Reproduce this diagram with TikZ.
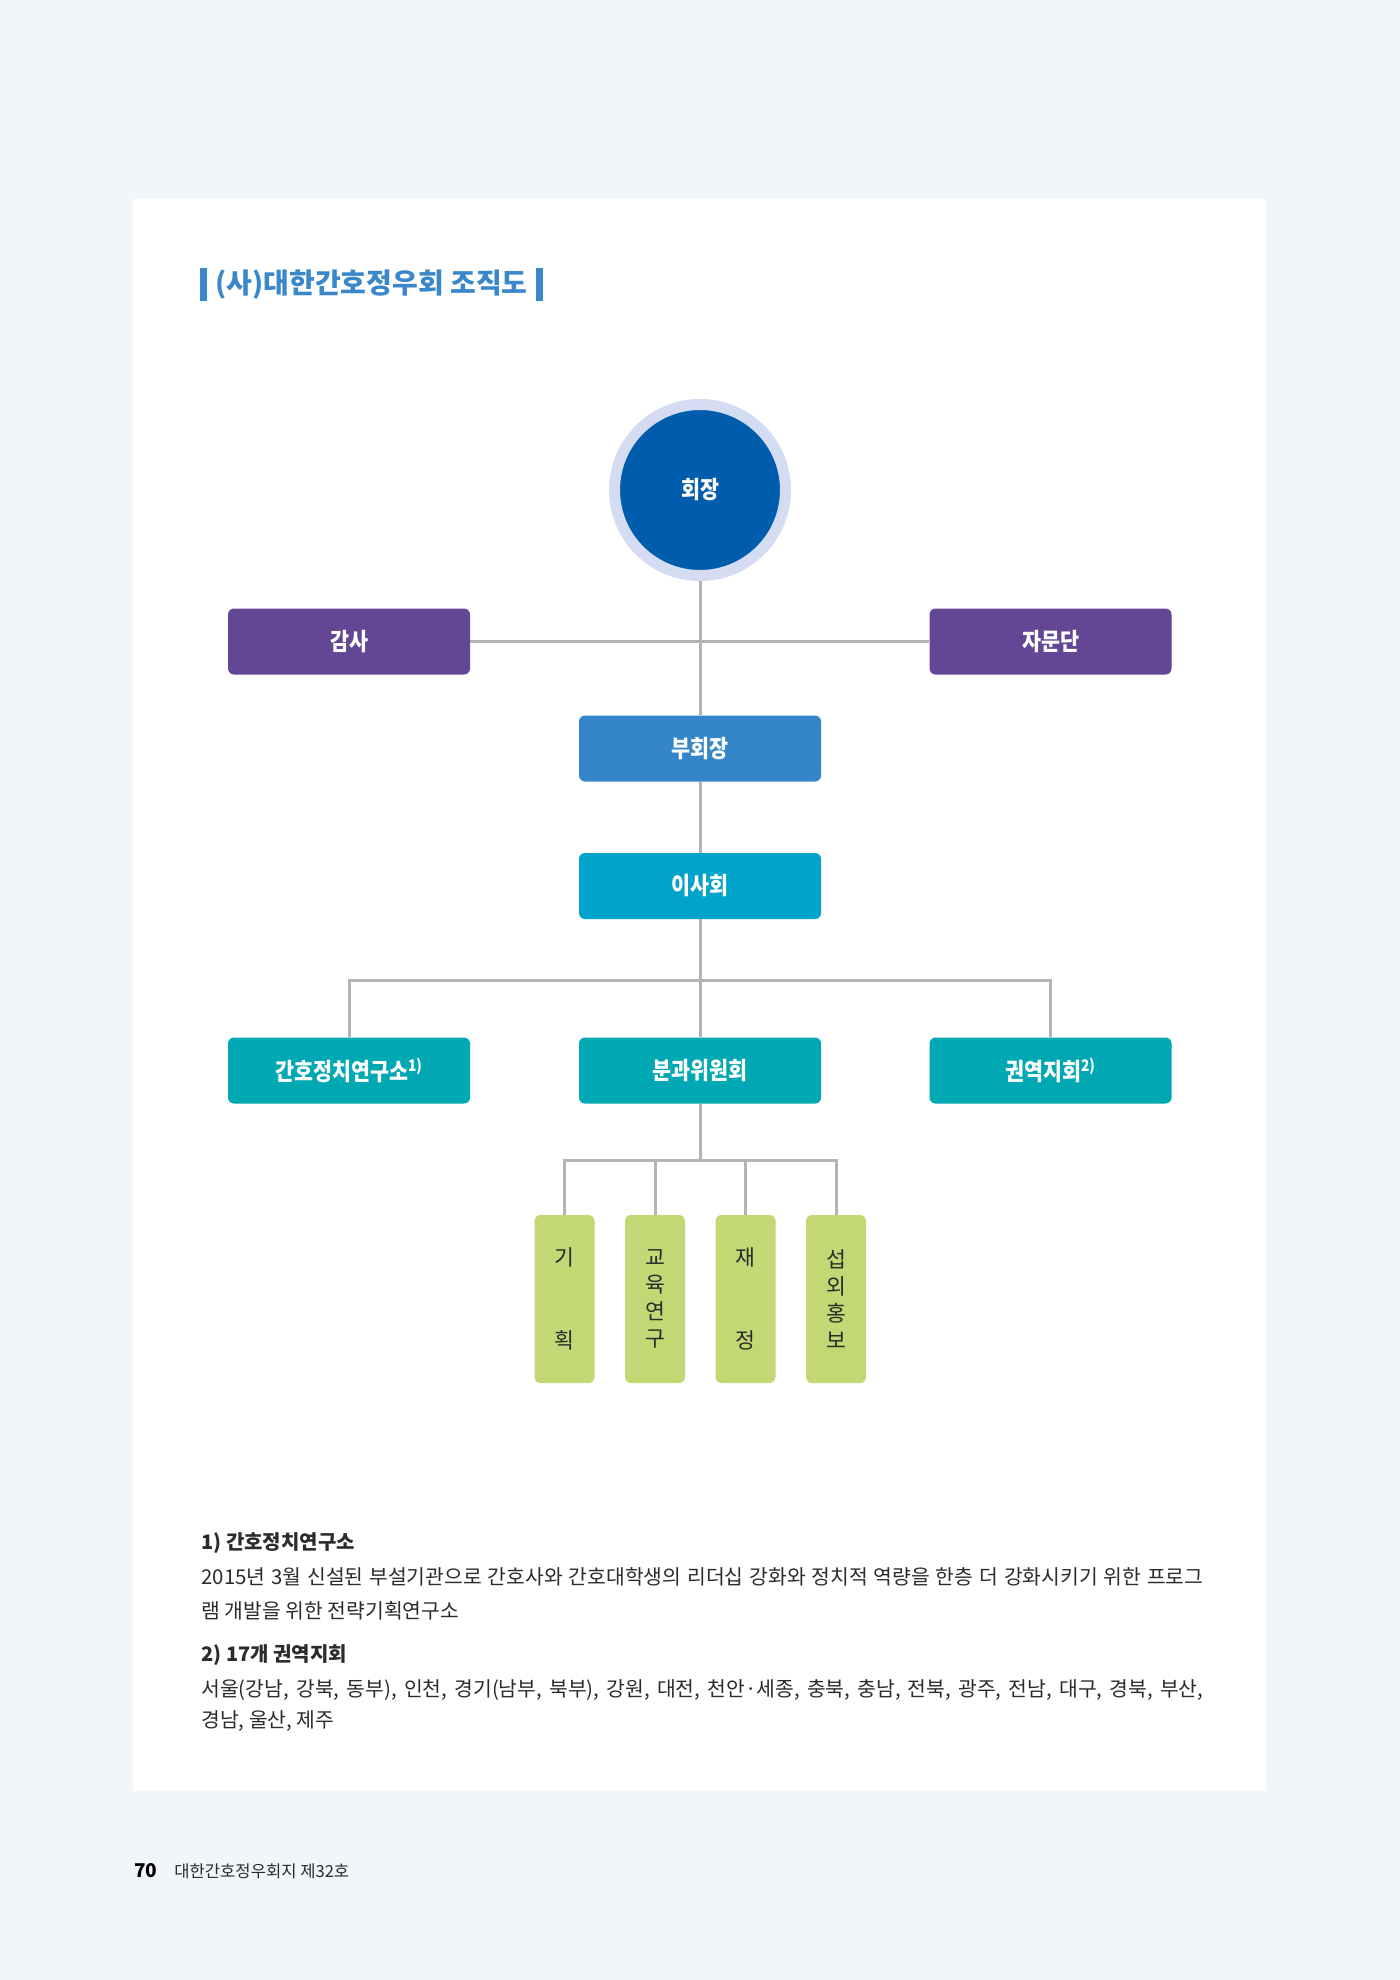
\documentclass[tikz,border=0pt]{standalone}
\usepackage{fontspec}
\setmainfont{Noto Sans CJK KR}
\newfontfamily\krcond{Noto Sans CJK KR}[FakeStretch=0.86]
\definecolor{pagebg}{HTML}{F2F5F9}
\definecolor{titleblue}{HTML}{3A87CA}
\definecolor{ringlight}{HTML}{D3DCF0}
\definecolor{presblue}{HTML}{005DAE}
\definecolor{purplebox}{HTML}{634795}
\definecolor{vpblue}{HTML}{3486C8}
\definecolor{boardcyan}{HTML}{00A3CA}
\definecolor{tealbox}{HTML}{00A8B4}
\definecolor{greenbox}{HTML}{C3D874}
\definecolor{linegray}{HTML}{B3B3B3}
\definecolor{darktext}{HTML}{2B2B2B}
\begin{document}
\begin{tikzpicture}[x=0.5pt,y=-0.5pt,
  conn/.style={draw=linegray,line width=1.5pt},
  orgbox/.style={rectangle,rounded corners=3pt,minimum width=121pt,minimum height=33pt,inner sep=0pt,text=white,font=\krcond\bfseries\fontsize{12}{14}\selectfont},
  subbox/.style={rectangle,rounded corners=3pt,fill=greenbox,minimum width=30pt,minimum height=84pt,inner sep=0pt,text=darktext,align=center,font=\fontsize{10.8}{13.6}\selectfont},
  bodytext/.style={anchor=west,inner sep=0pt,text=darktext,font=\fontsize{10.2}{12}\selectfont},
  headtext/.style={anchor=west,inner sep=0pt,text=darktext,font=\bfseries\fontsize{10}{12}\selectfont},
  titlebar/.style={rectangle,fill=titleblue,minimum width=3.5pt,minimum height=16.5pt,inner sep=0pt}]
\useasboundingbox (0,0) rectangle (1400,1980);
\fill[pagebg] (0,0) rectangle (1400,1980);
\fill[white] (133,199) rectangle (1266,1791);
% title
\node[titlebar] (barL) at (203.5,284.5) {};
\node[anchor=west,inner sep=0pt,text=titleblue,font=\bfseries\fontsize{14}{16}\selectfont] (title) at (215,285) {(사)대한간호정우회 조직도};
\node[titlebar,anchor=west] (barR) at ([xshift=4pt]title.east |- barL) {};
% nodes
\node[circle,fill=presblue,draw=ringlight,line width=5.5pt,minimum size=85.5pt,inner sep=0pt,text=white,font=\krcond\bfseries\fontsize{12}{14}\selectfont] (pres) at (700,490) {회장};
\node[orgbox,fill=purplebox] (gamsa) at (349,641.5) {감사};
\node[orgbox,fill=purplebox] (jamun) at (1050.5,641.5) {자문단};
\node[orgbox,fill=vpblue] (vp) at (700,748.5) {부회장};
\node[orgbox,fill=boardcyan] (isa) at (700,886) {이사회};
\node[orgbox,fill=tealbox] (gan) at (349,1070.5) {간호정치연구소\textsuperscript{1)}};
\node[orgbox,fill=tealbox] (bun) at (700,1070.5) {분과위원회};
\node[orgbox,fill=tealbox] (gwon) at (1050.5,1070.5) {권역지회\textsuperscript{2)}};
\node[subbox] (s1) at (564.5,1299) {기\\[27.9pt]획};
\node[subbox] (s2) at (655,1299) {교\\육\\연\\구};
\node[subbox] (s3) at (745.5,1299) {재\\[27.9pt]정};
\node[subbox] (s4) at (836,1299) {섭\\외\\홍\\보};
\coordinate (sb) at (700,1160.5);
% connectors
\draw[conn] (gamsa.east) -- (jamun.west);
\draw[conn] (pres.south) -- (vp.north);
\draw[conn] (vp.south) -- (isa.north);
\draw[conn] (isa.south) -- (bun.north);
\draw[conn] (gan.north) -- ++(0,-57) -| (gwon.north);
\draw[conn] (bun.south) -- (sb);
\draw[conn] (s1.north) -- (s1.north |- sb) -- (s4.north |- sb) -- (s4.north);
\draw[conn] (s2.north) -- (s2.north |- sb);
\draw[conn] (s3.north) -- (s3.north |- sb);
% footnotes
\node[headtext] (h1) at (201,1543) {1) 간호정치연구소};
\node[bodytext] (b1) at (201,1577) {\makebox[501pt][s]{2015년 3월 신설된 부설기관으로 간호사와 간호대학생의 리더십 강화와 정치적 역량을 한층 더 강화시키기 위한 프로그}};
\node[bodytext] (b2) at (201,1611) {램 개발을 위한 전략기획연구소};
\node[headtext] (h2) at (201,1655) {2) 17개 권역지회};
\node[bodytext] (b3) at (201,1690) {\makebox[501pt][s]{서울(강남, 강북, 동부), 인천, 경기(남부, 북부), 강원, 대전, 천안·세종, 충북, 충남, 전북, 광주, 전남, 대구, 경북, 부산,}};
\node[bodytext] (b4) at (201,1721) {경남, 울산, 제주};
% footer
\node[anchor=west,inner sep=0pt,text=black,font=\bfseries\fontsize{9.5}{11}\selectfont] (pg) at (134,1871) {70};
\node[anchor=west,inner sep=0pt,text=darktext,font=\fontsize{8.3}{10}\selectfont] (mag) at (174,1871) {대한간호정우회지 제32호};
\end{tikzpicture}
\end{document}
